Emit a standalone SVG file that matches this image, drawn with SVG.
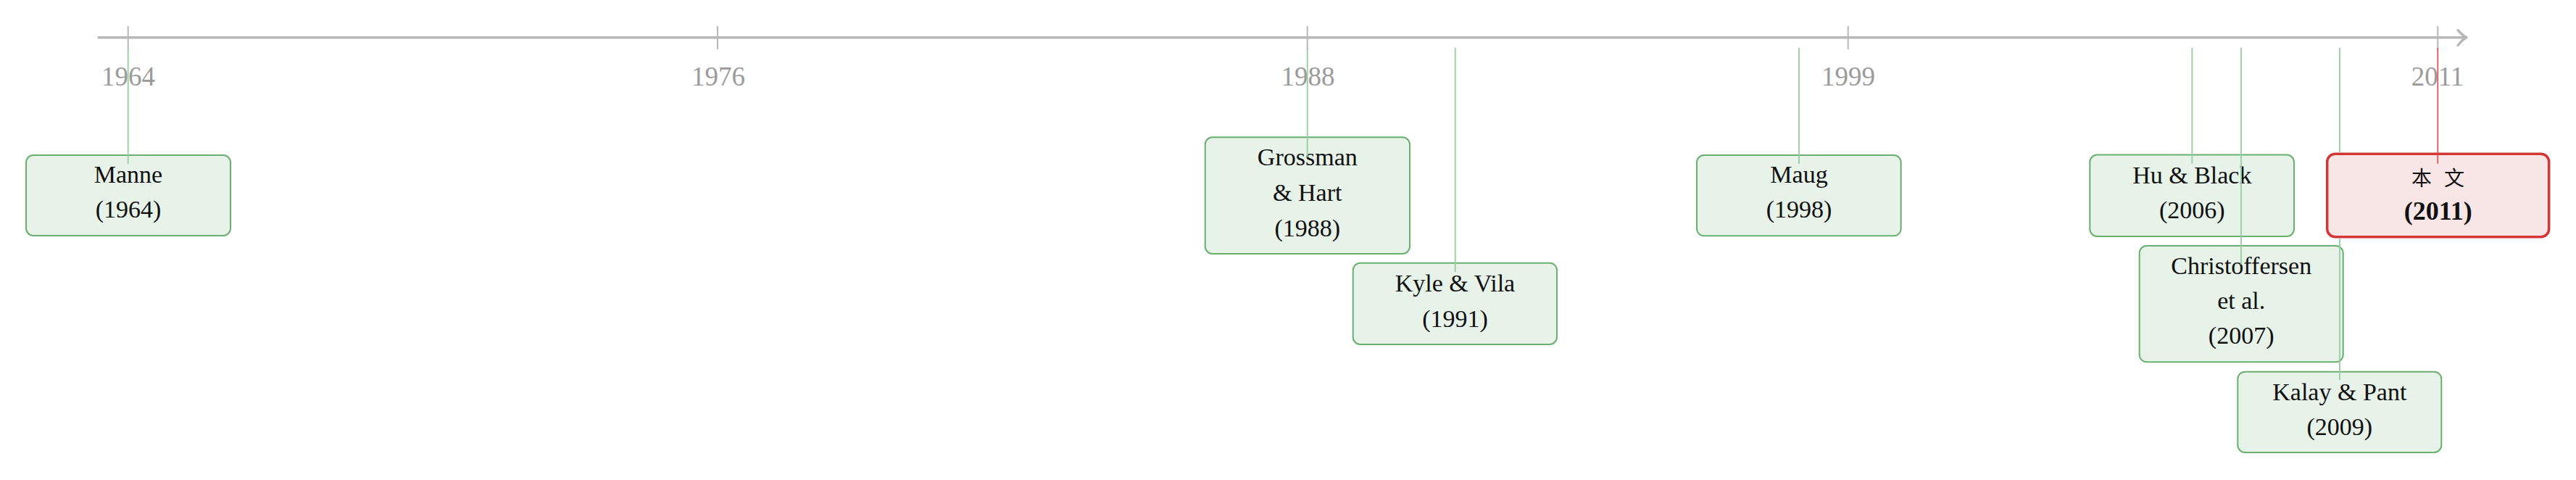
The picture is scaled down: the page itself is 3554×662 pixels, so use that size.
<svg xmlns="http://www.w3.org/2000/svg" width="3554" height="662" viewBox="0 0 3554 662">
<style>
.axis{stroke:#b8b8b8;stroke-width:3.5;fill:none;stroke-linecap:round;stroke-linejoin:round}
.tick{stroke:#b8b8b8;stroke-width:2}
.year{font-family:"Liberation Serif",serif;font-size:37px;fill:#9b9b9b;text-anchor:middle}
.box{fill:#e7f2e8;stroke:#6aaf70;stroke-width:2}
.boxr{fill:#f8e5e6;stroke:#d43535;stroke-width:3.5}
.lbl{font-family:"Liberation Serif",serif;font-size:34px;fill:#111;text-anchor:middle}
.lblb{font-family:"Liberation Serif",serif;font-size:36px;font-weight:bold;fill:#111;text-anchor:middle}
.cjk{font-family:"Liberation Serif","Noto Sans CJK SC",serif;font-size:28px;fill:#111;text-anchor:middle;letter-spacing:5px}
.conn{stroke:#94cfa0;stroke-width:1.8;fill:none}
.connr{stroke:#e0454a;stroke-width:1.6;fill:none}
</style>
<g id="axis">
<line class="axis" x1="136" y1="51.7" x2="3401" y2="51.7"/>
<path class="axis" d="M3391,41.5 Q3398,49.5 3403,51.7 Q3398,54 3391,62.5"/>
<line class="tick" x1="176.7" y1="36" x2="176.7" y2="68"/>
<line class="tick" x1="990" y1="36" x2="990" y2="68"/>
<line class="tick" x1="1803.7" y1="36" x2="1803.7" y2="68"/>
<line class="tick" x1="2549.7" y1="36" x2="2549.7" y2="68"/>
<line class="tick" x1="3363.3" y1="36" x2="3363.3" y2="68"/>
<text class="year" x="177" y="118">1964</text>
<text class="year" x="991" y="118">1976</text>
<text class="year" x="1804.5" y="118">1988</text>
<text class="year" x="2550" y="118">1999</text>
<text class="year" x="3363" y="118">2011</text>
</g>
<g id="node-manne">
<rect class="box" x="36" y="214" width="282" height="111" rx="10"/>
<text class="lbl" x="177" y="252">Manne</text>
<text class="lbl" x="177" y="300">(1964)</text>
</g>
<g id="node-grossman">
<rect class="box" x="1662.7" y="189.3" width="282.3" height="160.7" rx="10"/>
<text class="lbl" x="1803.8" y="228.3">Grossman</text>
<text class="lbl" x="1803.8" y="277.3">&amp; Hart</text>
<text class="lbl" x="1803.8" y="326">(1988)</text>
</g>
<g id="node-kyle">
<rect class="box" x="1866.7" y="362.7" width="281.3" height="112.3" rx="10"/>
<text class="lbl" x="2007.5" y="401.7">Kyle &amp; Vila</text>
<text class="lbl" x="2007.5" y="450.7">(1991)</text>
</g>
<g id="node-maug">
<rect class="box" x="2341" y="214" width="281.7" height="111.3" rx="10"/>
<text class="lbl" x="2482" y="251.7">Maug</text>
<text class="lbl" x="2482" y="300">(1998)</text>
</g>
<g id="node-hu">
<rect class="box" x="2883.3" y="213.5" width="281.7" height="112.5" rx="10"/>
<text class="lbl" x="3024.3" y="252.5">Hu &amp; Black</text>
<text class="lbl" x="3024.3" y="301">(2006)</text>
</g>
<g id="node-christoffersen">
<rect class="box" x="2951.7" y="339" width="281" height="160.3" rx="10"/>
<text class="lbl" x="3092.2" y="378.3">Christoffersen</text>
<text class="lbl" x="3092.2" y="426">et al.</text>
<text class="lbl" x="3092.2" y="474">(2007)</text>
</g>
<g id="node-kalay">
<rect class="box" x="3087.3" y="512.7" width="281" height="111.3" rx="10"/>
<text class="lbl" x="3227.8" y="551.7">Kalay &amp; Pant</text>
<text class="lbl" x="3227.8" y="600">(2009)</text>
</g>
<g id="node-this">
<rect class="boxr" x="3210.7" y="212.3" width="306" height="114.4" rx="11"/>
<text class="cjk" x="3366" y="255.5">本 文</text>
<text class="lblb" x="3363.7" y="302.5">(2011)</text>
</g>
<g id="connectors">
<line class="conn" x1="176.7" y1="66" x2="176.7" y2="226"/>
<line class="conn" x1="1803.7" y1="66" x2="1803.7" y2="216.7"/>
<line class="conn" x1="2007.7" y1="66" x2="2007.7" y2="375"/>
<line class="conn" x1="2482" y1="66" x2="2482" y2="226"/>
<line class="conn" x1="3024.3" y1="66" x2="3024.3" y2="225.7"/>
<line class="conn" x1="3092" y1="66" x2="3092" y2="365"/>
<path class="conn" d="M3228,66 V211 M3228,328 V524"/>
<line class="connr" x1="3363.3" y1="66" x2="3363.3" y2="225.7"/>
</g>
</svg>
